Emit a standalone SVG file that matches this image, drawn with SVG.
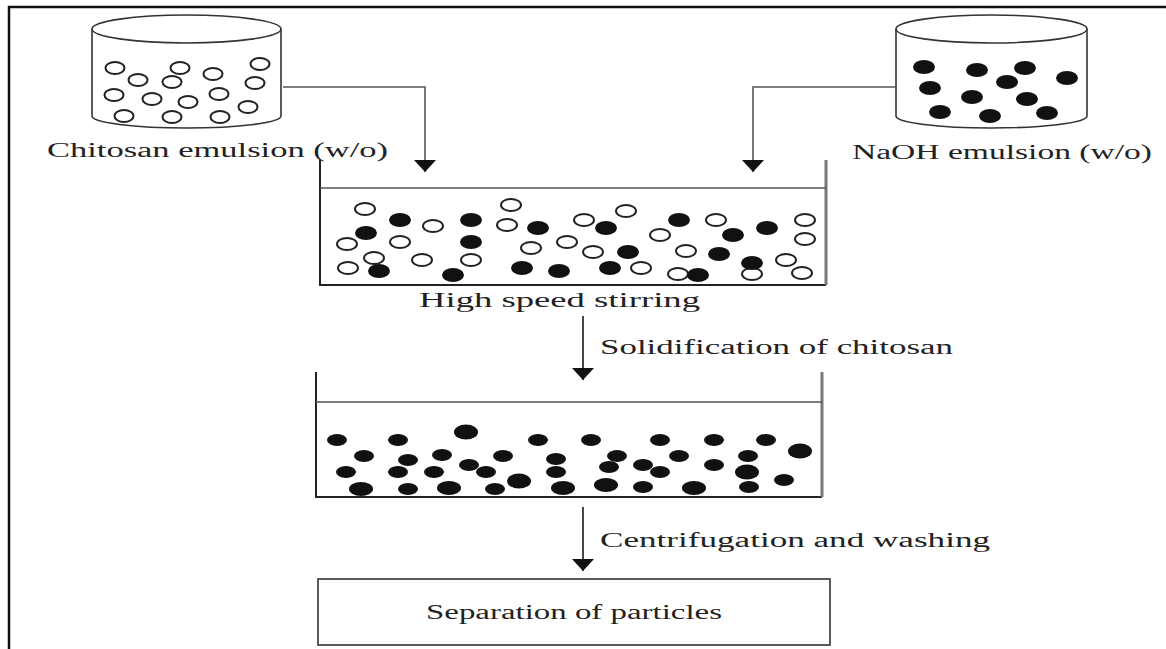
<svg xmlns="http://www.w3.org/2000/svg" width="1166" height="649" viewBox="0 0 1166 649">
<style>
.frame{stroke:#111;stroke-width:2.5;fill:none}
.cyl{fill:#fff;stroke:#333;stroke-width:1.6}
.o{fill:#fff;stroke:#222;stroke-width:2}
.f{fill:#111}
.wallL{stroke:#222;stroke-width:2;fill:none}
.wallR{stroke:#777;stroke-width:3;fill:none}
.liq{stroke:#555;stroke-width:1.5;fill:none}
.conn{stroke:#555;stroke-width:1.6;fill:none}
.arr{stroke:#333;stroke-width:1.8;fill:none}
text{font-family:"Liberation Serif","Times New Roman",serif;font-size:20.5px;fill:#222}
</style>
<defs>
<marker id="ah" markerUnits="userSpaceOnUse" markerWidth="12" markerHeight="22" refX="12" refY="11" orient="auto">
<path d="M0,0 L12,11 L0,22 Z" fill="#111"/>
</marker>
</defs>
<rect width="1166" height="649" fill="#fff"/>
<path class="frame" d="M9,649 V7 H1166"/>

<g id="chitosan-emulsion">
<path class="cyl" d="M92,29 V116 A94.5,12 0 0 0 281,116 V29"/>
<ellipse class="cyl" cx="186.5" cy="29" rx="94.5" ry="14"/>
<ellipse class="o" cx="115" cy="68" rx="9.5" ry="6"/>
<ellipse class="o" cx="180" cy="68" rx="9.5" ry="6"/>
<ellipse class="o" cx="213" cy="74" rx="9.5" ry="6"/>
<ellipse class="o" cx="260" cy="64" rx="9.5" ry="6"/>
<ellipse class="o" cx="138" cy="80" rx="9.5" ry="6"/>
<ellipse class="o" cx="172" cy="82" rx="9.5" ry="6"/>
<ellipse class="o" cx="255" cy="83" rx="9.5" ry="6"/>
<ellipse class="o" cx="114" cy="95" rx="9.5" ry="6"/>
<ellipse class="o" cx="152" cy="99" rx="9.5" ry="6"/>
<ellipse class="o" cx="188" cy="102" rx="9.5" ry="6"/>
<ellipse class="o" cx="219" cy="94" rx="9.5" ry="6"/>
<ellipse class="o" cx="248" cy="107" rx="9.5" ry="6"/>
<ellipse class="o" cx="124" cy="116" rx="9.5" ry="6"/>
<ellipse class="o" cx="172" cy="117" rx="9.5" ry="6"/>
<ellipse class="o" cx="220" cy="117" rx="9.5" ry="6"/>
<text x="47" y="157" textLength="341" lengthAdjust="spacingAndGlyphs">Chitosan emulsion (w/o)</text>
</g>

<g id="naoh-emulsion">
<path class="cyl" d="M896,29 V116 A95.5,12 0 0 0 1087,116 V29"/>
<ellipse class="cyl" cx="991.5" cy="29" rx="95.5" ry="14"/>
<ellipse class="f" cx="924" cy="67" rx="11" ry="7"/>
<ellipse class="f" cx="977" cy="70" rx="11" ry="7"/>
<ellipse class="f" cx="1025" cy="68" rx="11" ry="7"/>
<ellipse class="f" cx="1007" cy="82" rx="11" ry="7"/>
<ellipse class="f" cx="1067" cy="78" rx="11" ry="7"/>
<ellipse class="f" cx="930" cy="88" rx="11" ry="7"/>
<ellipse class="f" cx="972" cy="97" rx="11" ry="7"/>
<ellipse class="f" cx="1027" cy="99" rx="11" ry="7"/>
<ellipse class="f" cx="940" cy="112" rx="11" ry="7"/>
<ellipse class="f" cx="990" cy="116" rx="11" ry="7"/>
<ellipse class="f" cx="1047" cy="113" rx="11" ry="7"/>
<text x="852" y="159" textLength="300" lengthAdjust="spacingAndGlyphs">NaOH emulsion (w/o)</text>
</g>

<g id="mixing-tank">
<path class="wallL" d="M320,160 V285 H826"/>
<path class="wallR" d="M826,160 V285"/>
<path class="liq" d="M320,188 H826"/>
<g>
<ellipse class="o" cx="365" cy="209" rx="10" ry="6"/>
<ellipse class="o" cx="433" cy="226" rx="10" ry="6"/>
<ellipse class="o" cx="511" cy="205" rx="10" ry="6"/>
<ellipse class="o" cx="507" cy="225" rx="10" ry="6"/>
<ellipse class="o" cx="584" cy="220" rx="10" ry="6"/>
<ellipse class="o" cx="626" cy="211" rx="10" ry="6"/>
<ellipse class="o" cx="347" cy="244" rx="10" ry="6"/>
<ellipse class="o" cx="400" cy="242" rx="10" ry="6"/>
<ellipse class="o" cx="374" cy="258" rx="10" ry="6"/>
<ellipse class="o" cx="348" cy="268" rx="10" ry="6"/>
<ellipse class="o" cx="422" cy="260" rx="10" ry="6"/>
<ellipse class="o" cx="471" cy="260" rx="10" ry="6"/>
<ellipse class="o" cx="531" cy="248" rx="10" ry="6"/>
<ellipse class="o" cx="567" cy="242" rx="10" ry="6"/>
<ellipse class="o" cx="593" cy="252" rx="10" ry="6"/>
<ellipse class="o" cx="660" cy="235" rx="10" ry="6"/>
<ellipse class="o" cx="641" cy="268" rx="10" ry="6"/>
<ellipse class="o" cx="686" cy="251" rx="10" ry="6"/>
<ellipse class="o" cx="716" cy="220" rx="10" ry="6"/>
<ellipse class="o" cx="678" cy="274" rx="10" ry="6"/>
<ellipse class="o" cx="786" cy="260" rx="10" ry="6"/>
<ellipse class="o" cx="805" cy="220" rx="10" ry="6"/>
<ellipse class="o" cx="805" cy="239" rx="10" ry="6"/>
<ellipse class="o" cx="752" cy="274" rx="10" ry="6"/>
<ellipse class="o" cx="802" cy="273" rx="10" ry="6"/>
<ellipse class="f" cx="400" cy="220" rx="11" ry="7"/>
<ellipse class="f" cx="471" cy="220" rx="11" ry="7"/>
<ellipse class="f" cx="366" cy="233" rx="11" ry="7"/>
<ellipse class="f" cx="471" cy="242" rx="11" ry="7"/>
<ellipse class="f" cx="538" cy="228" rx="11" ry="7"/>
<ellipse class="f" cx="606" cy="228" rx="11" ry="7"/>
<ellipse class="f" cx="379" cy="271" rx="11" ry="7"/>
<ellipse class="f" cx="453" cy="275" rx="11" ry="7"/>
<ellipse class="f" cx="522" cy="268" rx="11" ry="7"/>
<ellipse class="f" cx="559" cy="271" rx="11" ry="7"/>
<ellipse class="f" cx="610" cy="268" rx="11" ry="7"/>
<ellipse class="f" cx="628" cy="252" rx="11" ry="7"/>
<ellipse class="f" cx="679" cy="220" rx="11" ry="7"/>
<ellipse class="f" cx="733" cy="235" rx="11" ry="7"/>
<ellipse class="f" cx="767" cy="228" rx="11" ry="7"/>
<ellipse class="f" cx="719" cy="254" rx="11" ry="7"/>
<ellipse class="f" cx="752" cy="263" rx="11" ry="7"/>
<ellipse class="f" cx="698" cy="275" rx="11" ry="7"/>
</g>
<text x="419" y="307" textLength="281" lengthAdjust="spacingAndGlyphs">High speed stirring</text>
</g>

<g id="solid-tank">
<path class="wallL" d="M316,372 V497 H822"/>
<path class="wallR" d="M822,372 V497"/>
<path class="liq" d="M316,402 H822"/>
<g class="f">
<ellipse cx="337" cy="440" rx="10" ry="6"/>
<ellipse cx="398" cy="440" rx="10" ry="6"/>
<ellipse cx="466" cy="432" rx="12" ry="7.5"/>
<ellipse cx="538" cy="440" rx="10" ry="6"/>
<ellipse cx="591" cy="440" rx="10" ry="6"/>
<ellipse cx="660" cy="440" rx="10" ry="6"/>
<ellipse cx="714" cy="440" rx="10" ry="6"/>
<ellipse cx="766" cy="440" rx="10" ry="6"/>
<ellipse cx="800" cy="451" rx="12" ry="7.5"/>
<ellipse cx="364" cy="456" rx="10" ry="6"/>
<ellipse cx="408" cy="460" rx="10" ry="6"/>
<ellipse cx="442" cy="455" rx="10" ry="6"/>
<ellipse cx="503" cy="456" rx="10" ry="6"/>
<ellipse cx="556" cy="459" rx="10" ry="6"/>
<ellipse cx="617" cy="456" rx="10" ry="6"/>
<ellipse cx="679" cy="456" rx="10" ry="6"/>
<ellipse cx="748" cy="456" rx="10" ry="6"/>
<ellipse cx="469" cy="465" rx="10" ry="6"/>
<ellipse cx="609" cy="467" rx="10" ry="6"/>
<ellipse cx="643" cy="465" rx="10" ry="6"/>
<ellipse cx="714" cy="465" rx="10" ry="6"/>
<ellipse cx="346" cy="472" rx="10" ry="6"/>
<ellipse cx="398" cy="472" rx="10" ry="6"/>
<ellipse cx="434" cy="472" rx="10" ry="6"/>
<ellipse cx="486" cy="472" rx="10" ry="6"/>
<ellipse cx="556" cy="472" rx="10" ry="6"/>
<ellipse cx="660" cy="472" rx="10" ry="6"/>
<ellipse cx="747" cy="472" rx="12" ry="7.5"/>
<ellipse cx="519" cy="481" rx="12" ry="7.5"/>
<ellipse cx="784" cy="480" rx="10" ry="6"/>
<ellipse cx="361" cy="489" rx="12" ry="7"/>
<ellipse cx="408" cy="489" rx="10" ry="6"/>
<ellipse cx="449" cy="488" rx="12" ry="7"/>
<ellipse cx="495" cy="489" rx="10" ry="6"/>
<ellipse cx="563" cy="488" rx="12" ry="7"/>
<ellipse cx="606" cy="485" rx="12" ry="7"/>
<ellipse cx="643" cy="487" rx="10" ry="6"/>
<ellipse cx="694" cy="488" rx="12" ry="7"/>
<ellipse cx="749" cy="487" rx="10" ry="6"/>
</g>
</g>

<g id="separation">
<rect x="318" y="579" width="512" height="66" fill="#fff" stroke="#333" stroke-width="1.6"/>
<text x="574" y="619" text-anchor="middle" textLength="296" lengthAdjust="spacingAndGlyphs">Separation of particles</text>
</g>

<g id="connectors">
<path class="conn" d="M283,87 H425 V172" marker-end="url(#ah)"/>
<path class="conn" d="M896,87 H753 V172" marker-end="url(#ah)"/>
<path class="arr" d="M583,316 V380" marker-end="url(#ah)"/>
<path class="arr" d="M583,507 V571" marker-end="url(#ah)"/>
<text x="600" y="354" textLength="353" lengthAdjust="spacingAndGlyphs">Solidification of chitosan</text>
<text x="600" y="547" textLength="390" lengthAdjust="spacingAndGlyphs">Centrifugation and washing</text>
</g>
</svg>
